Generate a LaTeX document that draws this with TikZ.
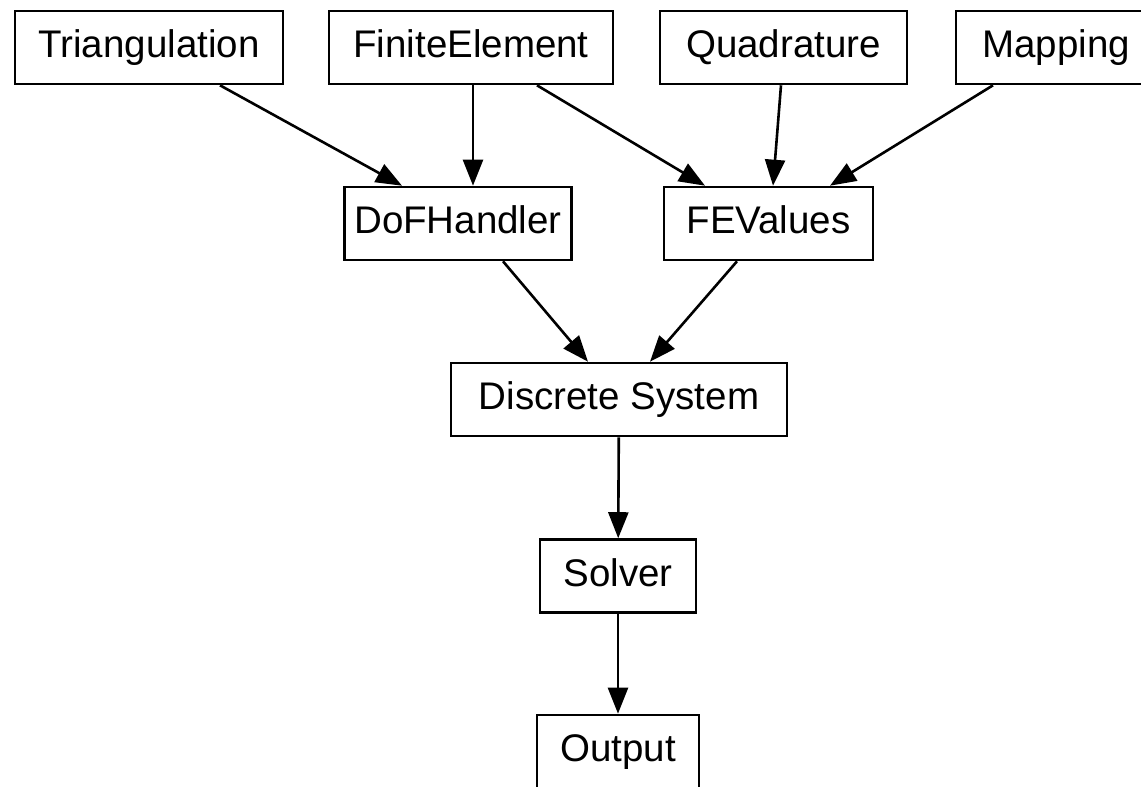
\documentclass[tikz,border=0pt]{standalone}
\usepackage{fontspec}
\setmainfont{Liberation Sans}
\usetikzlibrary{arrows.meta,positioning}

\begin{document}
\begin{tikzpicture}[x=1pt,y=-1pt,->,>={Triangle[length=26pt,width=20pt]},
line width=2.6pt, main node/.style={rectangle,draw,minimum height=73pt,inner sep=0pt,
text height=28pt,text depth=8pt,font=\fontsize{38.5}{46}\selectfont}]
\useasboundingbox (0,0) rectangle (1141,787);
\clip (0,0) rectangle (1141,787);

% top row
  \node[main node,minimum width=268pt] (tria) at (149,47.5) {Triangulation};
  \node[main node,minimum width=284pt] (fe) at (471,47.5) {FiniteElement};
  \node[main node,minimum width=247pt] (quad) at (783.5,47.5) {Quadrature};
  \node[main node,minimum width=200pt] (map) at (1056,47.5) {Mapping};

% middle row
  \node[main node,minimum width=227pt] (dof) at (458,223.5) {DoFHandler};
  \node[main node,minimum width=209pt] (fev) at (768.5,223.5) {FEValues};

% lower chain
  \node[main node,minimum width=336pt] (sys) at (619,399.5) {Discrete System};
  \node[main node,minimum width=156pt] (solver) at (618,576) {Solver};
  \node[main node,minimum width=162pt] (output) at (618,751.5) {Output};

  \path
    ([xshift=71pt]tria.south) edge ([xshift=-56pt]dof.north)
    ([xshift=2pt]fe.south) edge ([xshift=15pt]dof.north)
    ([xshift=66pt]fe.south) edge ([xshift=-63.5pt]fev.north)
    ([xshift=-2.5pt]quad.south) edge ([xshift=4.5pt]fev.north)
    ([xshift=-63pt]map.south) edge ([xshift=61.5pt]fev.north);

  \path
    ([xshift=45pt]dof.south) edge ([xshift=-31pt]sys.north)
    ([xshift=-31.5pt]fev.south) edge ([xshift=31pt]sys.north)
    (sys) edge (solver)
    (solver) edge (output);

\end{tikzpicture}
\end{document}
